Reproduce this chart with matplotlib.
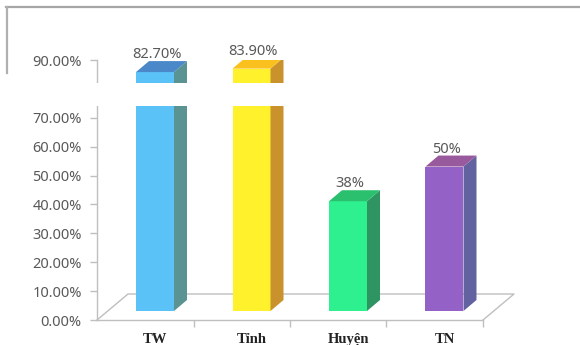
import matplotlib
matplotlib.use('Agg')
from matplotlib import pyplot as plt
from matplotlib.patches import Polygon, Rectangle
from matplotlib.lines import Line2D
import numpy as np

#-------------- Data ---------------
categories = ['TW', 'Tỉnh', 'Huyện', 'TN']
values = [82.7, 83.9, 38.0, 50.0]
value_labels = ['82.70%', '83.90%', '38%', '50%']
y_ticks = [0, 10, 20, 30, 40, 50, 60, 70, 80, 90]

#-------------- Style ---------------
front_colors = ['#5bc2f7', '#fff22c', '#2ef08e', '#9461c6']
side_colors = ['#5a9392', '#c9922c', '#2e9462', '#6262a0']
top_colors = ['#4a88c9', '#f9c01e', '#2ac06e', '#985a9c']
grey = '#bfbfbf'
text_grey = '#595959'

W, H = 580, 345
fig = plt.figure(figsize=(W / 100, H / 100), dpi=100)
ax = fig.add_axes([97 / W, (H - 320) / H, 386 / W, 260 / H])

# 3D offsets (data units)
px_x = 96.5          # pixels per category
px_y = 260 / 90      # pixels per percent
floor_dx, floor_dy = 31 / px_x, 26 / px_y
bar_dx, bar_dy = 13 / px_x, 11 / px_y
bar_x0, bar_y0 = 39 / px_x, 9 / px_y
bar_w = 38 / px_x

# floor (front edge = x axis spine)
ax.plot([0, floor_dx, 4 + floor_dx, 4], [0, floor_dy, floor_dy, 0],
        color=grey, lw=1, clip_on=False, zorder=1)

for i, (v, lab) in enumerate(zip(values, value_labels)):
    x0 = i + bar_x0
    y0 = bar_y0
    ax.add_patch(Rectangle((x0, y0), bar_w, v, facecolor=front_colors[i],
                           edgecolor='none', zorder=3))
    ax.add_patch(Polygon([(x0 + bar_w, y0), (x0 + bar_w + bar_dx, y0 + bar_dy),
                          (x0 + bar_w + bar_dx, y0 + v + bar_dy), (x0 + bar_w, y0 + v)],
                         closed=True, facecolor=side_colors[i], edgecolor='none', zorder=3))
    ax.add_patch(Polygon([(x0, y0 + v), (x0 + bar_w, y0 + v),
                          (x0 + bar_w + bar_dx, y0 + v + bar_dy), (x0 + bar_dx, y0 + v + bar_dy)],
                         closed=True, facecolor=top_colors[i], edgecolor='none', zorder=3))
    ax.text(x0 + bar_w / 2 + 0.02, y0 + v + bar_dy - 0.4, lab, ha='center', va='bottom',
            fontsize=10.5, color=text_grey, family='Noto Sans', zorder=4)
    ax.text(x0 + bar_w / 2, -4.5, categories[i], ha='center', va='top',
            fontsize=10.5, fontweight='bold', family='Liberation Serif', color='#222222')

ax.set_xlim(0, 4)
ax.set_ylim(0, 90)
ax.set_yticks(y_ticks)
ax.set_yticklabels([f'{t:.2f}%' for t in y_ticks], family='Noto Sans', fontsize=10.5,
                   color=text_grey)
ax.set_xticks([1, 2, 3, 4])
ax.set_xticklabels([])
for s in ['top', 'right']:
    ax.spines[s].set_visible(False)
for s in ['left', 'bottom']:
    ax.spines[s].set_color(grey)
    ax.spines[s].set_linewidth(1)
ax.tick_params(axis='both', colors=grey, length=5, width=1, pad=6)
ax.tick_params(axis='y', labelcolor=text_grey)
ax.set_facecolor('none')

# frame lines at the top of the picture
fig.add_artist(Line2D([6 / W, 1], [1 - 7 / H, 1 - 7 / H], transform=fig.transFigure,
                      color='#a6a6a6', lw=1.6))
fig.add_artist(Line2D([7 / W, 7 / W], [1 - 7 / H, 1 - 73 / H], transform=fig.transFigure,
                      color='#b0b0b0', lw=1.6))
# white band cut across the picture
fig.add_artist(Rectangle((0, (H - 106) / H), 1, 23 / H, transform=fig.transFigure,
                         facecolor='white', edgecolor='none', zorder=10))

fig.savefig('out.png', dpi=100)
